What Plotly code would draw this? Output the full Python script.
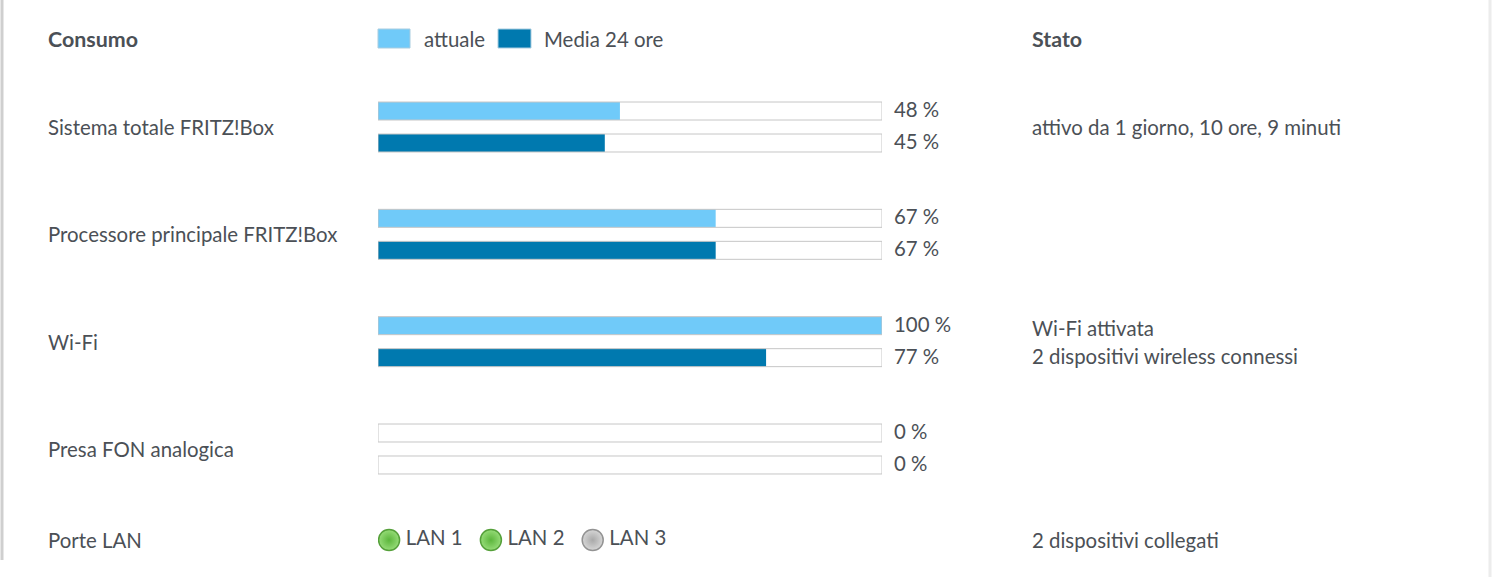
import plotly.graph_objects as go

W, H = 1492, 577

# dati
righe = ['Sistema totale FRITZ!Box', 'Processore principale FRITZ!Box', 'Wi-Fi', 'Presa FON analogica']
attuale = [48, 67, 100, 0]
media_24 = [45, 67, 77, 0]
stato = ['attivo da 1 giorno, 10 ore, 9 minuti', '', 'Wi-Fi attivata|2 dispositivi wireless connessi', '']
porte_lan = ['LAN 1', 'LAN 2', 'LAN 3']
lan_collegata = [True, True, False]
stato_lan = '2 dispositivi collegati'

COL_ATT = '#70caf9'
COL_MED = '#0079af'
COL_TXT = '#4b5056'
FONT = 'Lato'
FS = 20.4


def px_x(p):
    # le annotazioni hanno ~2px di padding interno
    return (p - 2) / W


def px_y(p):
    return 1 - p / H


fig = go.Figure()

# barre valore + contorno 100 %
for nome, vals, col, grp in [('attuale', attuale, COL_ATT, 'a'), ('Media 24 ore', media_24, COL_MED, 'b')]:
    fig.add_trace(go.Bar(
        y=righe, x=vals, orientation='h', name=nome, offsetgroup=grp,
        marker=dict(color=col, line=dict(width=0)), showlegend=False,
        hovertemplate='%{y}<br>' + nome + ': %{x} %<extra></extra>'))
    fig.add_trace(go.Bar(
        y=righe, x=[100] * len(righe), orientation='h', offsetgroup=grp,
        marker=dict(color='rgba(0,0,0,0)', line=dict(color='#c6c6c6', width=1)),
        showlegend=False, hoverinfo='skip'))

# porte LAN
fig.add_trace(go.Scatter(
    x=[2.2 + 20.2 * i for i in range(len(porte_lan))], y=[0] * len(porte_lan),
    xaxis='x', yaxis='y2', mode='markers+text', text=['\u2009' + p for p in porte_lan],
    textposition='middle right',
    textfont=dict(family=FONT, size=FS, color=COL_TXT),
    marker=dict(size=21,
                color=['#96dc78' if c else '#d6d6d6' for c in lan_collegata],
                gradient=dict(type='radial', color=['#5cb63c' if c else '#a9a9a9' for c in lan_collegata]),
                line=dict(color=['#55a03a' if c else '#939393' for c in lan_collegata], width=1.5)),
    showlegend=False, hoverinfo='text'))

ann = []
# intestazioni
for txt, x in [('Consumo', 48), ('Stato', 1032)]:
    ann.append(dict(text='<b>' + txt + '</b>', x=px_x(x), y=px_y(39), xref='paper', yref='paper',
                    xanchor='left', yanchor='middle', showarrow=False,
                    font=dict(family=FONT, size=FS + 1, color=COL_TXT)))
# legenda
for txt, x in [('attuale', 424), ('Media 24 ore', 544)]:
    ann.append(dict(text=txt, x=px_x(x), y=px_y(39), xref='paper', yref='paper',
                    xanchor='left', yanchor='middle', showarrow=False,
                    font=dict(family=FONT, size=FS, color=COL_TXT)))

for i, r in enumerate(righe):
    ann.append(dict(text=r, x=px_x(48), y=r, xref='paper', yref='y', xanchor='left',
                    yanchor='middle', showarrow=False, font=dict(family=FONT, size=FS, color=COL_TXT)))
    for v, sh in [(attuale[i], 18), (media_24[i], -14)]:
        ann.append(dict(text=f'{v} %', x=100, y=r, xref='x', yref='y', xanchor='left', xshift=10,
                        yshift=sh, yanchor='middle', showarrow=False,
                        font=dict(family=FONT, size=FS, color=COL_TXT)))
    righe_stato = [s for s in stato[i].split('|') if s]
    for k, s in enumerate(righe_stato):
        sh = 14 * (len(righe_stato) - 1) - 28 * k
        ann.append(dict(text=s, x=px_x(1032), y=r, xref='paper', yref='y', xanchor='left',
                        yanchor='middle', yshift=sh, showarrow=False,
                        font=dict(family=FONT, size=FS, color=COL_TXT)))

for txt, x in [('Porte LAN', 48), (stato_lan, 1032)]:
    ann.append(dict(text=txt, x=px_x(x), y=px_y(540), xref='paper', yref='paper',
                    xanchor='left', yanchor='middle', showarrow=False,
                    font=dict(family=FONT, size=FS, color=COL_TXT)))

shapes = [
    dict(type='rect', xref='paper', yref='paper', x0=378 / W, x1=410 / W, y0=px_y(29), y1=px_y(48),
         fillcolor=COL_ATT, line=dict(color='#a9cde0', width=1)),
    dict(type='rect', xref='paper', yref='paper', x0=498 / W, x1=531 / W, y0=px_y(29), y1=px_y(48),
         fillcolor=COL_MED, line=dict(color='#a9cde0', width=1)),
    dict(type='line', xref='paper', yref='paper', x0=2 / W, x1=2 / W, y0=px_y(0), y1=px_y(560),
         line=dict(color='#cfcfcf', width=3)),
    dict(type='line', xref='paper', yref='paper', x0=1490 / W, x1=1490 / W, y0=0, y1=1,
         line=dict(color='#ececec', width=3)),
]

# posizione categorie: centro riga 0 a 127 px, passo 107.33 px
passo = 107.33
y_top = -127 / passo
y_bot = (H - 127) / passo

fig.update_layout(
    width=W, height=H, margin=dict(l=0, r=0, t=0, b=0),
    paper_bgcolor='white', plot_bgcolor='white',
    barmode='group', bargap=0.404, bargroupgap=0.4375,
    xaxis=dict(domain=[378 / W, 882 / W], range=[0, 100], visible=False, fixedrange=True),
    yaxis=dict(type='category', range=[y_bot, y_top], visible=False, fixedrange=True),
    yaxis2=dict(domain=[px_y(555), px_y(525)], range=[-1, 1], visible=False, anchor='x', fixedrange=True),
    annotations=ann, shapes=shapes, showlegend=False,
)

fig.write_html('out.html', config={'displayModeBar': False},
               post_script="document.body.style.margin='0';")
